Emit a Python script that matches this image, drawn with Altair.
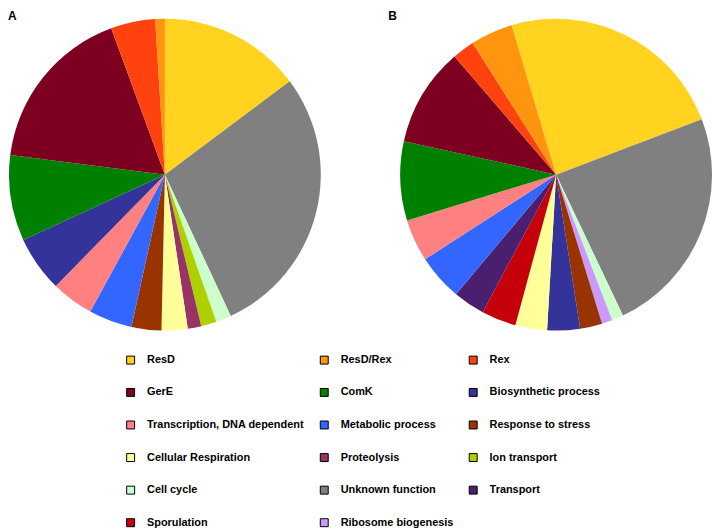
import math
import altair as alt
import pandas as pd

# legend entries, listed column by column (the legend fills columns top to bottom)
legend_order = ["ResD", "GerE", "Transcription, DNA dependent", "Cellular Respiration",
                "Cell cycle", "Sporulation",
                "ResD/Rex", "ComK", "Metabolic process", "Proteolysis",
                "Unknown function", "Ribosome biogenesis",
                "Rex", "Biosynthetic process", "Response to stress", "Ion transport", "Transport"]
slice_colors = ["#FFD320", "#7E0021", "#FF8080", "#FFFF99", "#CCFFCC", "#C5000B",
                "#FF950E", "#008000", "#3366FF", "#993366", "#808080", "#CC99FF",
                "#FF420E", "#333399", "#993300", "#AECF00", "#4B1F6F"]

# Panel A: clockwise from 12 o'clock
cats_a = ["ResD", "Unknown function", "Cell cycle", "Ion transport", "Proteolysis",
          "Cellular Respiration", "Response to stress", "Metabolic process",
          "Transcription, DNA dependent", "Biosynthetic process", "ComK", "GerE", "Rex", "ResD/Rex"]
vals_a = [14.8, 28.3, 1.6, 1.6, 1.4, 2.7, 3.1, 4.5, 4.4, 5.8, 8.9, 17.4, 4.6, 1.0]

# Panel B: clockwise from the start of ResD
cats_b = ["ResD", "Unknown function", "Cell cycle", "Ribosome biogenesis", "Response to stress",
          "Biosynthetic process", "Cellular Respiration", "Sporulation", "Transport",
          "Metabolic process", "Transcription, DNA dependent", "ComK", "GerE", "Rex", "ResD/Rex"]
vals_b = [23.9, 23.8, 1.2, 1.1, 2.3, 3.4, 3.3, 3.6, 3.3, 4.8, 4.4, 8.2, 10.3, 2.3, 4.4]

panel_labels = ["A", "B"]

FONT = "Liberation Sans"

color_scale = alt.Scale(domain=legend_order, range=slice_colors)
legend = alt.Legend(
    orient="none", legendX=118, legendY=346, columns=3, gridAlign="each",
    symbolType="square", symbolSize=64, symbolStrokeColor="black", symbolStrokeWidth=1,
    symbolOpacity=1,
    labelFont=FONT, labelFontWeight="bold", labelFontSize=11, labelColor="black",
    labelLimit=300, labelOffset=11, rowPadding=19.8, columnPadding=13, padding=0,
)


def pie(cats, vals, label, w, h, start_deg, label_x):
    df = pd.DataFrame({"category": cats, "value": vals, "order": list(range(len(cats)))})
    start = math.radians(start_deg)
    arcs = alt.Chart(df).mark_arc(radius=157, strokeWidth=0).encode(
        theta=alt.Theta("value:Q", stack=True,
                        scale=alt.Scale(range=[start, start + 2 * math.pi])),
        color=alt.Color("category:N", scale=color_scale, legend=legend, title=None),
        order=alt.Order("order:Q"),
    )
    tag = alt.Chart(pd.DataFrame({"label": [label]})).mark_text(
        font=FONT, fontSize=12, fontWeight="bold", color="black",
        align="left", baseline="top",
    ).encode(text="label:N", x=alt.value(label_x), y=alt.value(0))
    return alt.layer(arcs, tag).properties(width=w, height=h)


pie_a = pie(cats_a, vals_a, panel_labels[0], 316, 330, 0, 0)
pie_b = pie(cats_b, vals_b, panel_labels[1], 280, 330, -16.6, -29)

chart = alt.hconcat(pie_a, pie_b, spacing=96, bounds="flush").properties(
    padding=0
).configure_view(stroke=None)

chart.save("out.html", embed_options={"renderer": "svg", "actions": False})
